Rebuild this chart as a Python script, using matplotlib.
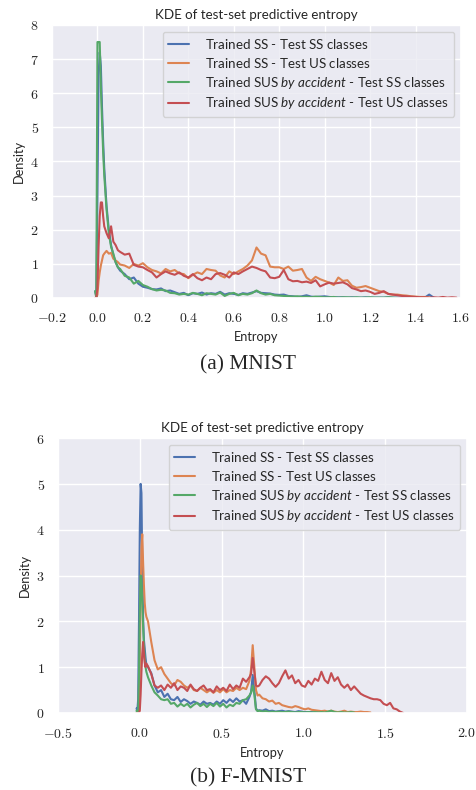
import numpy as np
import matplotlib
matplotlib.use('Agg')
import matplotlib.pyplot as plt
import seaborn as sns

sns.set_theme(style='darkgrid')
plt.rcParams['font.family'] = ['Lato', 'DejaVu Sans']
plt.rcParams['mathtext.fontset'] = 'cm'
plt.rcParams['mathtext.it'] = 'Lato:italic'
plt.rcParams['mathtext.rm'] = 'Lato'

labels = ['Trained SS - Test SS classes$\\,$',
          'Trained SS - Test US classes$\\,$',
          'Trained SUS $\\mathit{by\\ accident}$ - Test SS classes',
          'Trained SUS $\\mathit{by\\ accident}$ - Test US classes']
colors = ['#4C72B0', '#DD8452', '#55A868', '#C44E52']

# MNIST: evaluation grid of the entropy axis
entropy_mnist = np.round(np.concatenate([np.linspace(-0.01, 0.03, 9),
                                         np.linspace(0.04, 0.10, 7),
                                         np.linspace(0.12, 1.58, 74)]), 3)

mnist_ss_ss = [0.2, 0.05, 3.0, 6.5, 7.2, 6.8, 5.6, 4.6, 3.8,
               2.7, 2.0, 1.55, 1.25, 1.05, 0.9, 0.8,
               0.7, 0.55, 0.6, 0.42, 0.33, 0.3, 0.26, 0.25, 0.28, 0.2, 0.22, 0.17, 0.12, 0.15,
               0.08, 0.14, 0.12, 0.16, 0.1, 0.14, 0.12, 0.18, 0.1, 0.14, 0.12, 0.09, 0.14, 0.12,
               0.16, 0.2, 0.15, 0.14, 0.13, 0.1, 0.09, 0.1, 0.06, 0.05, 0.03, 0.05, 0.08, 0.04,
               0.03, 0.04, 0.05, 0.03, 0.02, 0.02, 0.02, 0.01, 0.02, 0.01, 0.01, 0.02, 0.01, 0.01,
               0.01, 0.01, 0.02, 0.01, 0.01, 0.01, 0.01, 0.01, 0.01, 0.01, 0.01, 0.1, 0.01]
mnist_ss_us = [0.0, 0.0, 0.1, 0.5, 0.75, 0.95, 1.1, 1.25, 1.3,
               1.38, 1.3, 1.32, 1.15, 1.1, 1.05, 0.98,
               0.95, 0.88, 1.0, 0.95, 1.02, 0.9, 0.82, 0.78, 0.72, 0.85, 0.78, 0.82, 0.72, 0.7,
               0.58, 0.68, 0.75, 0.7, 0.85, 0.82, 0.8, 0.66, 0.6, 0.78, 0.7, 0.78, 0.85, 0.95,
               1.1, 1.48, 1.3, 1.25, 0.92, 0.9, 0.9, 0.85, 0.92, 0.8, 0.82, 0.85, 0.6, 0.5,
               0.62, 0.55, 0.5, 0.45, 0.38, 0.6, 0.5, 0.52, 0.36, 0.3, 0.32, 0.35, 0.3, 0.25,
               0.2, 0.18, 0.12, 0.1, 0.1, 0.08, 0.07, 0.05, 0.04, 0.03, 0.03, 0.02]
mnist_sus_ss = [0.2, 0.0, 7.5, 7.5, 7.5, 6.2, 5.2, 4.3, 3.6,
                2.6, 1.9, 1.5, 1.3, 1.05, 0.9, 0.85,
                0.65, 0.6, 0.42, 0.5, 0.38, 0.33, 0.26, 0.22, 0.24, 0.22, 0.15, 0.14, 0.1, 0.12,
                0.1, 0.15, 0.12, 0.08, 0.14, 0.12, 0.1, 0.16, 0.06, 0.12, 0.15, 0.08, 0.12, 0.1,
                0.14, 0.22, 0.14, 0.1, 0.12, 0.08, 0.07, 0.06, 0.05, 0.04, 0.05, 0.03, 0.04, 0.02,
                0.04, 0.03, 0.02, 0.02, 0.03, 0.01, 0.02, 0.02, 0.01, 0.02, 0.01, 0.01, 0.02, 0.01,
                0.01, 0.01, 0.02, 0.01, 0.0]
mnist_sus_us = [0.0, 0.0, 0.3, 1.5, 2.4, 2.8, 2.8, 2.4, 2.1,
                1.9, 1.75, 2.1, 1.65, 1.55, 1.4, 1.35,
                1.27, 1.3, 0.97, 0.92, 0.9, 0.82, 0.75, 0.6, 0.7, 0.78, 0.72, 0.68, 0.75, 0.65,
                0.6, 0.7, 0.58, 0.52, 0.6, 0.55, 0.7, 0.73, 0.68, 0.6, 0.75, 0.7, 0.78, 0.85,
                0.92, 0.88, 0.82, 0.78, 0.6, 0.58, 0.62, 0.82, 0.55, 0.49, 0.5, 0.46, 0.48, 0.44,
                0.52, 0.34, 0.4, 0.45, 0.42, 0.44, 0.46, 0.4, 0.29, 0.25, 0.2, 0.22, 0.18, 0.12,
                0.15, 0.2, 0.12, 0.1, 0.08, 0.06, 0.05, 0.04, 0.03, 0.02, 0.02, 0.01, 0.02, 0.01,
                0.03, 0.01, 0.02, 0.01]

# F-MNIST: evaluation grid of the entropy axis
entropy_fmnist = np.round(np.concatenate([np.linspace(-0.02, 0.04, 13),
                                          np.linspace(0.05, 0.65, 31),
                                          np.linspace(0.67, 0.73, 7),
                                          np.linspace(0.75, 1.63, 45)]), 3)

fmnist_ss_ss = [0.1, 0.05, 0.3, 2.0, 4.0, 5.0, 4.8, 3.2, 2.1, 1.6, 1.4, 1.2, 1.05,
                1.0, 0.87, 0.6, 0.45, 0.5, 0.35, 0.42, 0.3, 0.28, 0.35, 0.24, 0.3, 0.26, 0.2,
                0.25, 0.22, 0.18, 0.25, 0.2, 0.22, 0.18, 0.25, 0.2, 0.28, 0.22, 0.3, 0.24, 0.32,
                0.25, 0.28, 0.2,
                0.35, 0.45, 0.83, 0.5, 0.1, 0.05, 0.06,
                0.05, 0.08, 0.04, 0.05, 0.03, 0.04, 0.05, 0.03, 0.04, 0.03, 0.02, 0.04, 0.03, 0.02,
                0.02, 0.02, 0.01, 0.02, 0.01, 0.01]
fmnist_ss_us = [0.0, 0.0, 0.0, 0.1, 1.0, 2.5, 3.6, 3.9, 3.3, 2.8, 2.4, 2.2, 2.1,
                2.0, 1.55, 1.15, 0.95, 1.0, 0.85, 0.75, 0.65, 0.6, 0.72, 0.68, 0.6, 0.55, 0.6,
                0.5, 0.48, 0.55, 0.5, 0.45, 0.5, 0.44, 0.5, 0.45, 0.52, 0.45, 0.5, 0.48, 0.55,
                0.5, 0.55, 0.52,
                0.7, 0.95, 1.48, 1.0, 0.5, 0.38, 0.4,
                0.32, 0.3, 0.25, 0.27, 0.2, 0.22, 0.17, 0.15, 0.13, 0.12, 0.15, 0.13, 0.1, 0.08,
                0.1, 0.07, 0.06, 0.05, 0.04, 0.05, 0.03, 0.05, 0.03, 0.02, 0.03, 0.05, 0.02, 0.03,
                0.02, 0.02, 0.03, 0.02, 0.02, 0.01]
fmnist_sus_ss = [0.05, 0.0, 0.0, 0.8, 2.2, 3.0, 2.9, 2.4, 1.9, 1.5, 1.2, 1.0, 0.9,
                 0.78, 0.6, 0.45, 0.38, 0.3, 0.28, 0.3, 0.2, 0.22, 0.14, 0.2, 0.15, 0.2, 0.12,
                 0.18, 0.22, 0.15, 0.2, 0.13, 0.2, 0.15, 0.22, 0.14, 0.2, 0.12, 0.18, 0.15, 0.22,
                 0.2, 0.28, 0.3,
                 0.38, 0.45, 0.6, 0.4, 0.08, 0.04, 0.05,
                 0.03, 0.04, 0.02, 0.03, 0.02, 0.03, 0.02, 0.02, 0.03, 0.02, 0.01, 0.02, 0.02, 0.01,
                 0.02, 0.01, 0.02, 0.01, 0.02, 0.01, 0.03, 0.05, 0.02, 0.01, 0.02, 0.01, 0.01, 0.02,
                 0.01]
fmnist_sus_us = [0.0, 0.0, 0.0, 0.0, 0.05, 0.4, 0.9, 1.3, 1.55, 1.3, 1.1, 1.0, 1.08,
                 1.02, 0.85, 0.6, 0.55, 0.6, 0.5, 0.62, 0.55, 0.65, 0.5, 0.58, 0.55, 0.48, 0.62,
                 0.52, 0.48, 0.55, 0.6, 0.5, 0.52, 0.45, 0.58, 0.5, 0.55, 0.48, 0.62, 0.52, 0.6,
                 0.55, 0.75, 0.68,
                 0.78, 0.85, 1.2, 0.9, 0.6, 0.58, 0.6,
                 0.72, 0.8, 0.75, 0.65, 0.57, 0.65, 0.8, 0.93, 0.75, 0.82, 0.65, 0.72, 0.6, 0.57,
                 0.7, 0.62, 0.75, 0.7, 0.9, 0.72, 0.65, 0.87, 0.7, 0.78, 0.62, 0.55, 0.62, 0.5,
                 0.58, 0.5, 0.42, 0.38, 0.35, 0.32, 0.3, 0.3, 0.28, 0.2, 0.17, 0.22, 0.1, 0.08,
                 0.03, 0.0]

panels = [
    dict(grid=entropy_mnist, series=[mnist_ss_ss, mnist_ss_us, mnist_sus_ss, mnist_sus_us],
         xticks=[-0.2, 0.0, 0.2, 0.4, 0.6, 0.8, 1.0, 1.2, 1.4, 1.6], yticks=list(range(0, 9)),
         caption='(a) MNIST'),
    dict(grid=entropy_fmnist, series=[fmnist_ss_ss, fmnist_ss_us, fmnist_sus_ss, fmnist_sus_us],
         xticks=[-0.5, 0.0, 0.5, 1.0, 1.5, 2.0], yticks=list(range(0, 7)),
         caption='(b) F-MNIST'),
]

fig = plt.figure(figsize=(4.77, 7.90), dpi=100)
axes_rects = [[0.109, 0.6228, 0.8575, 0.3456], [0.1216, 0.0975, 0.8575, 0.348]]
caption_y = [1 - 365 / 790, 1 - 778 / 790]

for panel, rect, cy in zip(panels, axes_rects, caption_y):
    ax = fig.add_axes(rect)
    for y, lab, c in zip(panel['series'], labels, colors):
        ax.plot(panel['grid'][:len(y)], y, color=c, linewidth=1.5, label=lab)

    xt, yt = panel['xticks'], panel['yticks']
    ax.set_xlim(xt[0], xt[-1])
    ax.set_ylim(yt[0], yt[-1])
    ax.set_xticks(xt, ['$%.1f$' % v for v in xt])
    ax.set_yticks(yt, ['$%d$' % v for v in yt])
    ax.tick_params(labelsize=10)

    ax.set_title('KDE of test-set predictive entropy', fontsize=9.6, pad=4)
    ax.set_xlabel('Entropy', fontsize=9.2, labelpad=5)
    ax.set_ylabel('Density', fontsize=9.2)

    leg = ax.legend(loc='upper right', fontsize=9.6, handlelength=1.6, handletextpad=1.2,
                    labelspacing=0.36)
    for t in leg.get_texts():
        t.set_math_fontfamily('custom')

    fig.text(248 / 477, cy, panel['caption'], family='Liberation Serif', fontsize=15.5,
             ha='center', va='center')

fig.savefig('out.png', dpi=100)
